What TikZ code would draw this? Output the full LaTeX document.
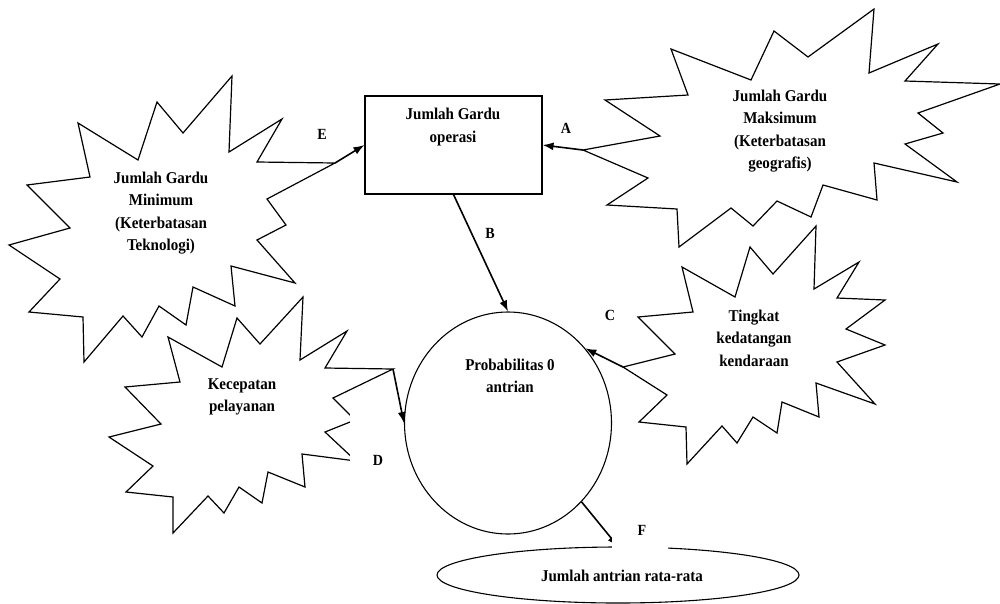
\documentclass[tikz,border=0pt]{standalone}
\usepackage{fontspec}
\setmainfont{Liberation Serif}[FakeStretch=0.91]
\usetikzlibrary{shapes.geometric,arrows.meta}
\begin{document}
\begin{tikzpicture}[x=1pt,y=-1pt,
  burst/.style={draw=black,line width=1.2pt,line join=miter},
  txt/.style={font=\bfseries\fontsize{16.5}{22.5}\selectfont,align=center,inner sep=0pt},
  lbl/.style={font=\bfseries\fontsize{15.5}{18}\selectfont,inner sep=0pt},
  conn/.style={draw,line width=1.6pt,-{Latex[length=11pt,width=8pt]}},
]
\useasboundingbox (0,0) rectangle (1000,603);

% starburst: Jumlah Gardu Minimum
\draw[burst] (78,123) -- (138,160) -- (157,102) -- (183,133) -- (232,76) -- (229,152)
  -- (282,119) -- (257,162) -- (335,163) -- (267,199) -- (286,225) -- (257,240)
  -- (295,283) -- (231,266) -- (235,306) -- (193,287) -- (186,325) -- (159,306)
  -- (142,337) -- (123,316) -- (84,362) -- (83,317) -- (29,312) -- (60,279)
  -- (9,245) -- (70,228) -- (27,185) -- (90,177) -- cycle;
\coordinate (tipE) at (335,163);

% starburst: Jumlah Gardu Maksimum
\draw[burst] (583,150) -- (660,136) -- (605,100) -- (688,95) -- (671,49) -- (751,80)
  -- (774,31) -- (808,57) -- (874,9) -- (869,73) -- (938,44) -- (905,81)
  -- (1000,84) -- (918,113) -- (943,133) -- (905,144) -- (957,182) -- (874,163)
  -- (877,200) -- (823,185) -- (811,217) -- (777,201) -- (753,226) -- (731,208)
  -- (679,247) -- (677,209) -- (607,205) -- (648,178) -- cycle;
\coordinate (tipA) at (583,150);

% starburst: Tingkat kedatangan kendaraan
\draw[burst] (638,317) -- (693,312) -- (682,267) -- (735,297) -- (750,247) -- (773,274)
  -- (816,226) -- (814,289) -- (859,262) -- (837,298) -- (885,300) -- (846,329)
  -- (885,345) -- (837,362) -- (875,404) -- (816,383) -- (819,417) -- (782,402)
  -- (777,433) -- (753,417) -- (737,443) -- (722,426) -- (687,464) -- (686,427)
  -- (639,422) -- (667,395) -- (623,367) -- (675,354) -- cycle;
\coordinate (tipC) at (623,367);

% starburst: Kecepatan pelayanan
\draw[burst] (125,387) -- (180,382) -- (168,337) -- (222,367) -- (237,318) -- (260,344)
  -- (303,297) -- (300,360) -- (347,331) -- (325,368) -- (393,369) -- (333,398)
  -- (355,420) -- (325,432) -- (356,461) -- (302,454) -- (305,487) -- (268,472)
  -- (262,503) -- (239,487) -- (224,513) -- (208,496) -- (173,533) -- (173,497)
  -- (126,492) -- (153,466) -- (109,437) -- (161,424) -- cycle;
\coordinate (tipD) at (393,369);

% main nodes
\node[draw,line width=1.1pt,minimum width=177,minimum height=98,inner sep=0pt] (box) at (453.5,145) {};
\node[txt] (boxtxt) at (453,127) {Jumlah Gardu\\operasi};
\node[draw,ellipse,line width=1.1pt,minimum width=207,minimum height=222,inner sep=0pt] (prob) at (508,423) {};
\node[txt] (probtxt) at (510,376) {Probabilitas 0\\antrian};
\node[draw,ellipse,line width=1.1pt,minimum width=362,minimum height=56,inner sep=0pt] (avg) at (618,575) {};
\node[txt] (avgtxt) at (622,576) {Jumlah antrian rata-rata};

% starburst texts
\node[txt] (mintxt) at (161,213) {Jumlah Gardu\\Minimum\\(Keterbatasan\\Teknologi)};
\node[txt] (maxtxt) at (780,131) {Jumlah Gardu\\Maksimum\\(Keterbatasan\\geografis)};
\node[txt] (tingtxt) at (754,338) {Tingkat\\kedatangan\\kendaraan};
\node[txt] (kectxt) at (242,397) {Kecepatan\\pelayanan};

% connectors
\draw[conn] (tipE) -- (box.west);
\draw[conn] (tipA) -- (box.east);
\draw[conn] (box.south) -- (prob.north);
\draw[conn] (tipC) -- (prob.44);
\draw[conn] (tipD) -- (prob.west);
\draw[conn] (prob.-47) -- (avg.north);

% label masks
\fill[white] (350,414) rectangle (398,472);
\fill[white] (612,518) rectangle (668,551);

% labels
\node[lbl] (lA) at (566,128) {A};
\node[lbl] (lB) at (490,233) {B};
\node[lbl] (lC) at (610,315) {C};
\node[lbl] (lD) at (378,460) {D};
\node[lbl] (lE) at (322,134) {E};
\node[lbl] (lF) at (642,530) {F};
\end{tikzpicture}
\end{document}
